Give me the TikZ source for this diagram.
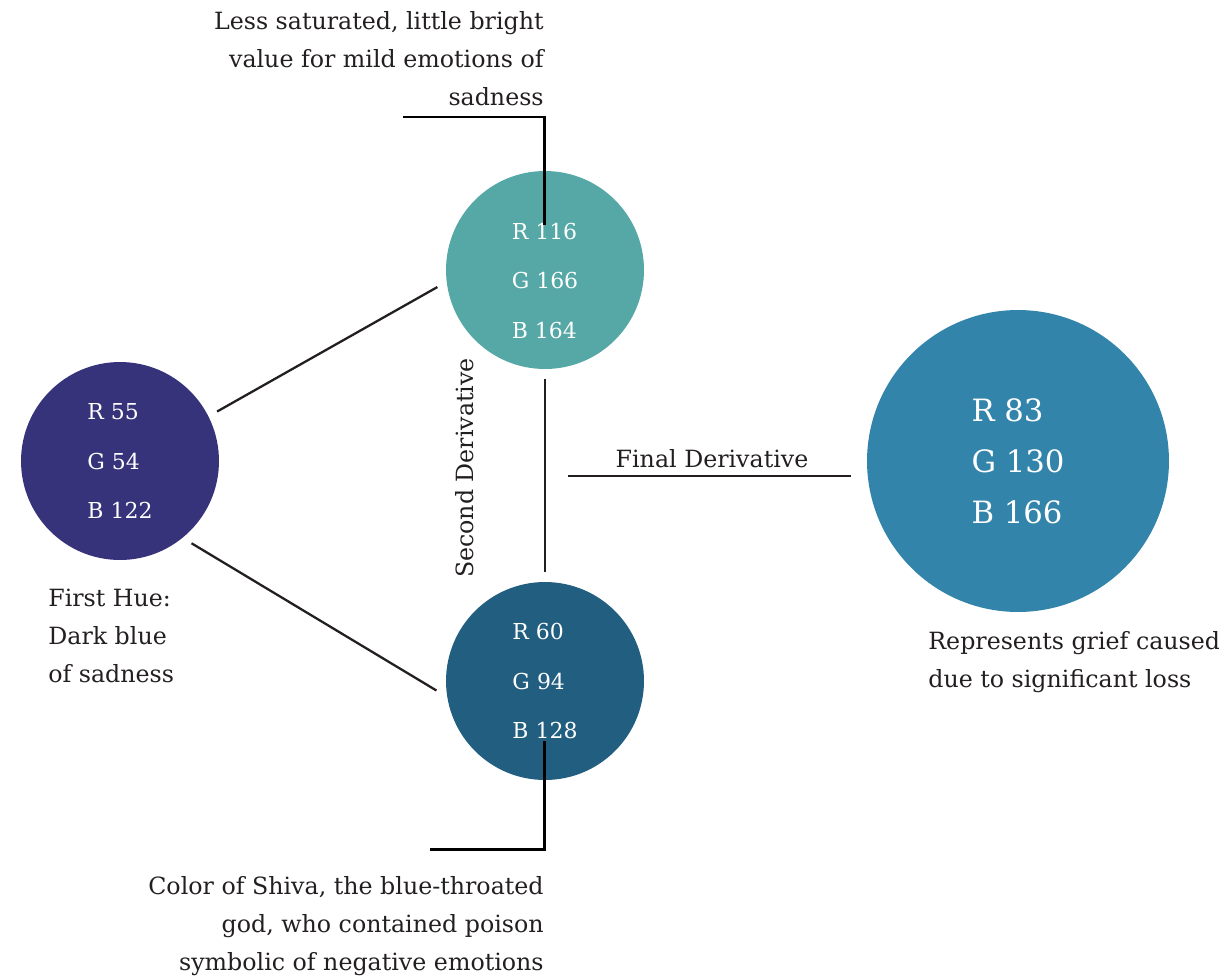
\documentclass[tikz,border=0pt]{standalone}
\usepackage{fontspec}
\setmainfont{DejaVu Serif}
\usepackage{tikz}

\definecolor{hueone}{RGB}{55,51,122}
\definecolor{huetwo}{RGB}{85,168,165}
\definecolor{huethree}{RGB}{34,94,128}
\definecolor{huefinal}{RGB}{51,132,170}
\definecolor{ink}{RGB}{35,31,32}

\begin{document}
\begin{tikzpicture}[x=0.02cm, y=-0.02cm,
  hue/.style={shape=circle, minimum size=3.96cm, inner sep=0pt, outer sep=0.2cm,
    text=white, align=left, font=\fontsize{12.5}{28.4}\selectfont},
  values/.style={text=white, inner sep=0pt, align=left, font=\fontsize{12.5}{28.4}\selectfont},
  note/.style={text=ink, inner sep=0pt, font=\fontsize{13.5}{21.6}\selectfont},
  link/.style={draw=ink, line width=1.3pt},
  callout/.style={draw=black, line width=1.7pt}]
\useasboundingbox (0,0) rectangle (1219,977);

\node (1) at (120,461) [hue, fill=hueone] {R 55\\G 54\\B 122};
\node (2) at (545,270) [hue, fill=huetwo] {};
\node (2v) at (545,281) [values] {R 116\\G 166\\B 164};
\node (3) at (545,681) [hue, fill=huethree] {R 60\\G 94\\B 128};
\node (4) at (1018,461) [hue, fill=huefinal, minimum size=6.04cm,
  font=\fontsize{17.5}{29}\selectfont] {R 83\\G 130\\B 166};

\node (5) at (544,11) [note, anchor=north east, align=right] {Less saturated, little bright\\value for mild emotions of\\sadness};
\node (6) at (48,589) [note, anchor=north west, align=left] {First Hue:\\Dark blue\\of sadness};
\node (7) at (928,631) [note, anchor=north west, align=left] {Represents grief caused\\due to significant loss};
\node (8) at (544,876) [note, anchor=north east, align=right] {Color of Shiva, the blue-throated\\god, who contained poison\\symbolic of negative emotions};
\node (9) at (712,459) [note] {Final Derivative};
\node (10) at (465,468) [note, rotate=90] {Second Derivative};

% derivation lines
\path [link] (1.27) edge (2.189);
\path [link] (1.-49) edge (3.185);
\path [link] (2.south) edge (3.north);
\coordinate (11) at (568,476);
\path [link] (11) edge ([xshift=-0.12cm]11 -| 4.west);

% callouts to the notes
\coordinate (12) at (403,117);
\coordinate (13) at (544,225);
\draw [callout] (12) -| (13);
\coordinate (14) at (430,849);
\coordinate (15) at (544,741);
\draw [callout] (14) -| (15);

\end{tikzpicture}
\end{document}
